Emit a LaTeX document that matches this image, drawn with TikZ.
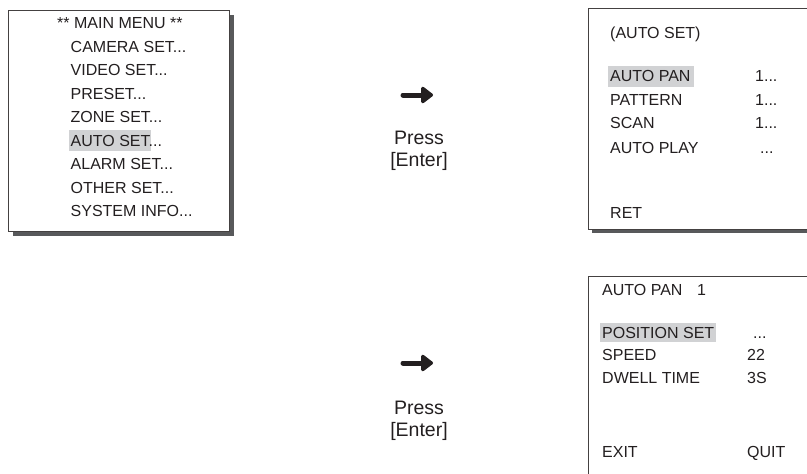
\documentclass[tikz,border=0pt]{standalone}
\usepackage{fontspec}
\setmainfont{Liberation Sans}
\usetikzlibrary{arrows.meta}
\definecolor{ink}{HTML}{231F20}
\definecolor{hlgray}{HTML}{D1D2D4}
\definecolor{shadowgray}{HTML}{58595B}

\begin{document}
\begin{tikzpicture}[x=1pt, y=-1pt,
        every node/.style={inner sep=0pt, anchor=base west, text=ink, font=\fontsize{16}{19}\selectfont},
        screen/.style={draw=ink!85, line width=1pt, fill=white},
        press/.style={anchor=center, align=center, font=\fontsize{19.5}{22}\selectfont},
        >={Triangle[length=13pt, width=19pt, round]}]
    \useasboundingbox (0,0) rectangle (807,474);
    % main menu
    \fill[shadowgray] (13,15) rectangle (234,236);
    \draw[screen] (8,10) rectangle (229,231);
    \fill[hlgray] (69,130) rectangle (151,151);
    \node (main) at (57,28.7) {** MAIN MENU **};
    \node (camera) at (70.5,52.2) {CAMERA SET...};
    \node (video) at (70.5,75.7) {VIDEO SET...};
    \node (preset) at (70.5,99.2) {PRESET...};
    \node (zone) at (70.5,122.7) {ZONE SET...};
    \node (auto) at (70.5,146.2) {AUTO SET...};
    \node (alarm) at (70.5,169.7) {ALARM SET...};
    \node (other) at (70.5,193.2) {OTHER SET...};
    \node (system) at (70.5,216.7) {SYSTEM INFO...};
    % auto set
    \fill[shadowgray] (592,12) rectangle (834,233);
    \draw[screen] (588,8) rectangle (830,229);
    \fill[hlgray] (608,66) rectangle (694,87);
    \node (autoset) at (610,38.5) {(AUTO SET)};
    \node (pan) at (610,81.5) {AUTO PAN};
    \node (pattern) at (610,105.5) {PATTERN};
    \node (scan) at (610,128.5) {SCAN};
    \node (play) at (610,153.5) {AUTO PLAY};
    \node (ret) at (610,218.5) {RET};
    \node (panv) at (755,81.5) {1...};
    \node (patternv) at (755,105.5) {1...};
    \node (scanv) at (755,128.5) {1...};
    \node (playv) at (760,153.5) {...};
    % auto pan 1
    \draw[screen] (588,276) rectangle (830,500);
    \fill[hlgray] (600,323) rectangle (716,342);
    \node (pantitle) at (602,295.5) {AUTO PAN};
    \node (panno) at (697,295.5) {1};
    \node (position) at (602,338.5) {POSITION SET};
    \node (speed) at (602,360.5) {SPEED};
    \node (dwell) at (602,383.5) {DWELL TIME};
    \node (exit) at (602,457.5) {EXIT};
    \node (positionv) at (753,338.5) {...};
    \node (speedv) at (747,360.5) {22};
    \node (dwellv) at (747,383.5) {3S};
    \node (quit) at (747,457.5) {QUIT};
    % press enter
    \coordinate (go1) at (403,95);
    \coordinate (to1) at (433,95);
    \coordinate (go2) at (403,363);
    \coordinate (to2) at (433,363);
    \draw[->, ink, line width=5pt, line cap=round] (go1) -- (to1);
    \draw[->, ink, line width=5pt, line cap=round] (go2) -- (to2);
    \node[press] (press1) at (419,151) {Press\\{}[Enter]};
    \node[press] (press2) at (419,421) {Press\\{}[Enter]};
\end{tikzpicture}
\end{document}
